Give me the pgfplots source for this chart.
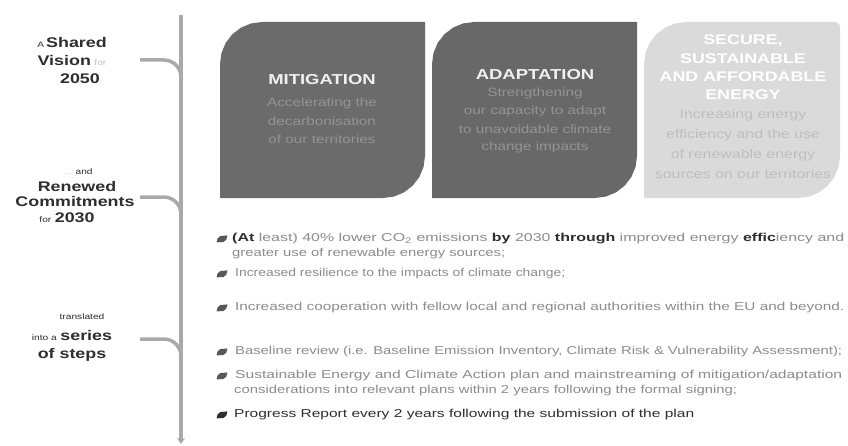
\documentclass[border=0pt]{standalone}
\usepackage{pgfplots}
\pgfplotsset{compat=1.18}
\usepackage{graphicx}
\usepackage{fontspec}
\setmainfont{Liberation Sans}
\usetikzlibrary{arrows.meta}
\definecolor{boxA}{HTML}{6B6B6B}
\definecolor{boxB}{HTML}{686868}
\definecolor{boxC}{HTML}{DADADA}
\definecolor{tline}{HTML}{A9A9A9}
\definecolor{body}{HTML}{8C8C8C}
\definecolor{dark}{HTML}{2E2E2E}
\definecolor{descA}{HTML}{949494}
\definecolor{descC}{HTML}{BEBEBE}
\definecolor{faint}{HTML}{9A9A9A}
\newcommand{\sx}[1]{\scalebox{1.28}[1]{#1}}
\newcommand{\bodytext}[2]{\resizebox{#1bp}{\height}{\fontsize{11.5}{12}\selectfont #2}}
\pgfdeclareplotmark{leaf}{%
  \pgfpathmoveto{\pgfpoint{-5.5pt}{-3.4pt}}%
  \pgfpathlineto{\pgfpoint{-4.4pt}{0.7pt}}%
  \pgfpathlineto{\pgfpoint{-1.6pt}{3.0pt}}%
  \pgfpathlineto{\pgfpoint{5.5pt}{3.6pt}}%
  \pgfpathlineto{\pgfpoint{4.4pt}{-0.5pt}}%
  \pgfpathlineto{\pgfpoint{1.6pt}{-3.0pt}}%
  \pgfpathclose\pgfusepathqfill}
\begin{document}
\begin{tikzpicture}
\begin{axis}[
  width=848bp, height=446bp, scale only axis,
  xmin=0, xmax=848, ymin=0, ymax=446, y dir=reverse,
  hide axis, clip=false]
% background
\addplot[draw=none, fill=white] coordinates {(0,0)(848,0)(848,446)(0,446)} -- cycle;
% boxes
\addplot[draw=none, fill=boxA] coordinates {(220,198)(220,64)(221.43,53.13)(225.63,43)(232.3,34.3)(241,27.63)(251.13,23.43)(262,22)(425,22)(425,156)(423.57,166.87)(419.37,177)(412.7,185.7)(404,192.37)(393.87,196.57)(383,198)} -- cycle;
\addplot[draw=none, fill=boxB] coordinates {(432,198)(432,64)(433.43,53.13)(437.63,43)(444.3,34.3)(453,27.63)(463.13,23.43)(474,22)(637,22)(637,156)(635.57,166.87)(631.37,177)(624.7,185.7)(616,192.37)(605.87,196.57)(595,198)} -- cycle;
\addplot[draw=none, fill=boxC] coordinates {(644,198)(644,64)(645.43,53.13)(649.63,43)(656.3,34.3)(665,27.63)(675.13,23.43)(686,22)(836,22)(839,24)(840,27)(840,156)(838.57,166.87)(834.37,177)(827.7,185.7)(819,192.37)(808.87,196.57)(798,198)} -- cycle;
% timeline
\addplot[tline, line width=3.5bp, -{Stealth[length=6bp,width=8bp]}] coordinates {(181,15)(181,444)};
\addplot[tline, line width=3.5bp] coordinates {(140,60)(164,60)(168.4,60.6)(172.5,62.3)(176,65)(178.7,68.5)(180.4,72.6)(181,77)};
\addplot[tline, line width=3.5bp] coordinates {(140,197)(164,197)(168.4,197.6)(172.5,199.3)(176,202)(178.7,205.5)(180.4,209.6)(181,214)};
\addplot[tline, line width=3.5bp] coordinates {(140,339)(164,339)(168.4,339.6)(172.5,341.3)(176,344)(178.7,347.5)(180.4,351.6)(181,356)};
% bullets
\addplot[only marks, mark=leaf, color=dark!80] coordinates {(222,239)(222,274)(222,308)(222,352)(222,376)};
\addplot[only marks, mark=leaf, color=dark] coordinates {(222,415)};
% left labels
\node[text=dark] at (72,43) {\sx{{\fontsize{8}{8}\selectfont A}\,{\fontsize{14}{14}\selectfont\bfseries Shared}}};
\node[text=dark] at (72,61) {\sx{{\fontsize{14}{14}\selectfont\bfseries Vision} {\fontsize{8}{8}\selectfont\color{faint!60}for}}};
\node[text=dark] at (80,79) {\sx{\fontsize{14}{14}\selectfont\bfseries 2050}};
\node[text=dark] at (78,172) {\sx{\fontsize{8}{8}\selectfont{\color{faint!50}...} and}};
\node[text=dark] at (77,187) {\sx{\fontsize{14}{14}\selectfont\bfseries Renewed}};
\node[text=dark] at (75,202) {\sx{\fontsize{14}{14}\selectfont\bfseries Commitments}};
\node[text=dark] at (67,218) {\sx{{\fontsize{8}{8}\selectfont for} {\fontsize{14}{14}\selectfont\bfseries 2030}}};
\node[text=dark] at (82,317) {\sx{\fontsize{8}{8}\selectfont translated}};
\node[text=dark] at (72,336) {\sx{{\fontsize{8}{8}\selectfont into a} {\fontsize{14}{14}\selectfont\bfseries series}}};
\node[text=dark] at (72,355) {\sx{\fontsize{14}{14}\selectfont\bfseries of steps}};
% box texts
\node[text=white!94!black] at (322,80) {\sx{\fontsize{14.5}{15}\selectfont\bfseries MITIGATION}};
\node[text=descA] at (322,103) {\sx{\fontsize{12}{12}\selectfont Accelerating the}};
\node[text=descA] at (322,121) {\sx{\fontsize{12}{12}\selectfont decarbonisation}};
\node[text=descA] at (322,139) {\sx{\fontsize{12}{12}\selectfont of our territories}};
\node[text=white!94!black] at (535,75) {\sx{\fontsize{14.5}{15}\selectfont\bfseries ADAPTATION}};
\node[text=descA] at (535,93) {\sx{\fontsize{12}{12}\selectfont Strengthening}};
\node[text=descA] at (535,111) {\sx{\fontsize{12}{12}\selectfont our capacity to adapt}};
\node[text=descA] at (535,129) {\sx{\fontsize{12}{12}\selectfont to unavoidable climate}};
\node[text=descA] at (535,147) {\sx{\fontsize{12}{12}\selectfont change impacts}};
\node[text=white] at (743,41) {\sx{\fontsize{14}{14}\selectfont\bfseries SECURE,}};
\node[text=white] at (743,59) {\sx{\fontsize{14}{14}\selectfont\bfseries SUSTAINABLE}};
\node[text=white] at (743,77) {\sx{\fontsize{14}{14}\selectfont\bfseries AND AFFORDABLE}};
\node[text=white] at (743,95) {\sx{\fontsize{14}{14}\selectfont\bfseries ENERGY}};
\node[text=descC] at (743,115) {\sx{\fontsize{12.5}{13}\selectfont Increasing energy}};
\node[text=descC] at (743,135) {\sx{\fontsize{12.5}{13}\selectfont efficiency and the use}};
\node[text=descC] at (743,155) {\sx{\fontsize{12.5}{13}\selectfont of renewable energy}};
\node[text=descC] at (743,174) {\sx{\fontsize{12.5}{13}\selectfont sources on our territories}};
% bullet texts
\begin{scope}[every node/.style={anchor=west, inner sep=0pt}]
\node[text=body] at (232,239) {\bodytext{612}{{\color{dark}\bfseries(At} least) 40\% lower CO\textsubscript{2} emissions {\color{dark}\bfseries by} 2030 {\color{dark}\bfseries through} improved energy {\color{dark}\bfseries effic}iency and}};
\node[text=body] at (232,254) {\bodytext{273}{greater use of renewable energy sources;}};
\node[text=body] at (235,274) {\bodytext{330}{Increased resilience to the impacts of climate change;}};
\node[text=body] at (235,308) {\bodytext{609}{Increased cooperation with fellow local and regional authorities within the EU and beyond.}};
\node[text=body] at (235,352) {\bodytext{607}{Baseline review (i.e. Baseline Emission Inventory, Climate Risk \& Vulnerability Assessment);}};
\node[text=body] at (235,376) {\bodytext{607}{Sustainable Energy and Climate Action plan and mainstreaming of mitigation/adaptation}};
\node[text=body] at (234,391) {\bodytext{503}{considerations into relevant plans within 2 years following the formal signing;}};
\node[text=dark] at (234,415) {\bodytext{460}{Progress Report every 2 years following the submission of the plan}};
\end{scope}
\end{axis}
\end{tikzpicture}
\end{document}
